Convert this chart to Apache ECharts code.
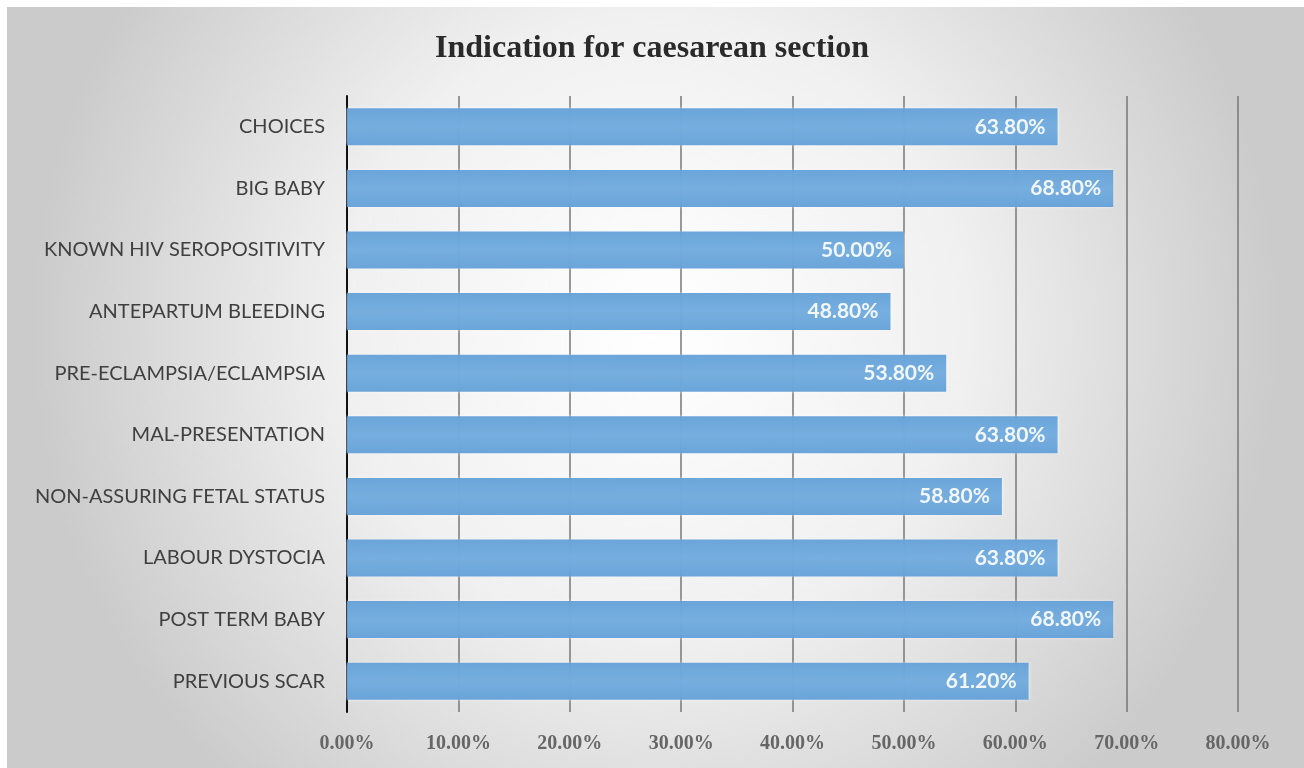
<!DOCTYPE html>
<html>
<head>
<meta charset="utf-8">
<script src="https://cdn.jsdelivr.net/npm/echarts@6/dist/echarts.min.js"></script>
<style>
  html, body { margin: 0; padding: 0; background: #fff; }
  #chart { width: 1304px; height: 768px; }
</style>
</head>
<body>
<div id="chart"></div>
<script>
// Indications for caesarean section, listed top to bottom
const categories = [
  'CHOICES',
  'BIG BABY',
  'KNOWN HIV SEROPOSITIVITY',
  'ANTEPARTUM BLEEDING',
  'PRE-ECLAMPSIA/ECLAMPSIA',
  'MAL-PRESENTATION',
  'NON-ASSURING FETAL STATUS',
  'LABOUR DYSTOCIA',
  'POST TERM BABY',
  'PREVIOUS SCAR'
];
// Percentage of cases per indication
const percentages = [63.8, 68.8, 50.0, 48.8, 53.8, 63.8, 58.8, 63.8, 68.8, 61.2];

const chart = echarts.init(document.getElementById('chart'));
chart.setOption({
  backgroundColor: '#ffffff',
  graphic: [{
    type: 'rect',
    z: -10,
    silent: true,
    shape: { x: 7, y: 7, width: 1297, height: 761 },
    style: {
      fill: {
        type: 'radial', x: 0.5, y: 0.42, r: 0.82,
        colorStops: [
          { offset: 0, color: '#ffffff' },
          { offset: 0.5, color: '#f0f0f0' },
          { offset: 1, color: '#cbcbcb' }
        ]
      }
    }
  }],
  title: {
    text: 'Indication for caesarean section',
    left: 'center',
    top: 28,
    textStyle: {
      fontFamily: 'Liberation Serif',
      fontWeight: 'bold',
      fontSize: 32,
      color: '#2a2a2a'
    }
  },
  grid: { left: 347, right: 66, top: 96, bottom: 56, containLabel: false },
  xAxis: {
    type: 'value',
    min: 0, max: 80, interval: 10,
    axisLine: { show: false },
    axisTick: { show: false },
    splitLine: { show: true, lineStyle: { color: '#777777', width: 1.5 } },
    axisLabel: {
      formatter: v => v.toFixed(2) + '%',
      fontFamily: 'Liberation Serif',
      fontSize: 20,
      fontWeight: 'bold',
      color: '#666666',
      margin: 22
    }
  },
  yAxis: {
    type: 'category',
    data: categories,
    inverse: true,
    axisLine: { show: true, lineStyle: { color: '#111', width: 2 } },
    axisTick: { show: false },
    axisLabel: {
      fontFamily: 'Lato',
      fontSize: 20,
      color: '#3f3f3f',
      margin: 22
    }
  },
  series: [{
    type: 'bar',
    data: percentages,
    barCategoryGap: '40%',
    z: 1,
    itemStyle: {
      opacity: 0.9,
      color: {
        type: 'linear', x: 0, y: 0, x2: 0, y2: 1,
        colorStops: [
          { offset: 0, color: '#5b9bd5' },
          { offset: 0.5, color: '#67a5dc' },
          { offset: 1, color: '#5b9bd5' }
        ]
      },
      shadowColor: 'rgba(255,255,255,0.9)',
      shadowBlur: 3
    },
    label: {
      show: true,
      position: 'insideRight',
      distance: 12,
      formatter: p => p.value.toFixed(2) + '%',
      fontFamily: 'Lato',
      fontWeight: 'bold',
      fontSize: 21,
      color: '#ffffff'
    }
  }]
});
</script>
</body>
</html>
